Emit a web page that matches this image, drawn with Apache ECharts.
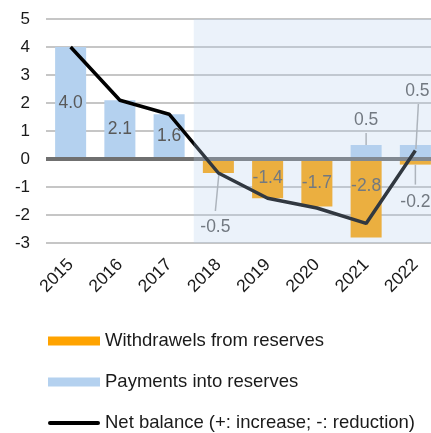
<!DOCTYPE html>
<html><head><meta charset="utf-8">
<script src="https://cdn.jsdelivr.net/npm/echarts@6/dist/echarts.min.js"></script>
<style>html,body{margin:0;padding:0;background:#fff;}#c{width:431px;height:433px;}</style>
</head><body><div id="c"></div>
<script>
// ---- data ----
const categories = ['2015','2016','2017','2018','2019','2020','2021','2022'];
const withdrawals = [null, null, null, -0.5, -1.4, -1.7, -2.8, -0.2];
const payments    = [4.0, 2.1, 1.6, null, null, null, 0.5, 0.5];
const netBalance  = [4.0, 2.1, 1.6, -0.5, -1.4, -1.75, -2.3, 0.3];
const yMin = -3, yMax = 5, yStep = 1;
const shadedStart = '2018';
const seriesNames = ['Withdrawels from reserves', 'Payments into reserves', 'Net balance (+: increase; -: reduction)'];

// ---- styles ----
const FONT = '"Liberation Sans", Arial, Helvetica, sans-serif';
const ORANGE = '#FFA300', BLUE = '#B4D1EF';
const labelBase = {
  show: true, position: 'inside', color: '#595959', fontSize: 17.5, fontFamily: FONT,
  formatter: p => (p.value == null ? '' : Number(p.value).toFixed(1))
};
// label placement per category (styles only, not data); lead = leader line pixel offsets from bar end
const withdrawLabelPlace = {
  '2018': {position: 'bottom', distance: 45, offset: [-3, 0], lead: [0.6, 0, -3, 38]},
  '2021': {position: 'insideTop', distance: 18},
  '2022': {position: 'bottom', distance: 29, lead: [0, 0, 0, 20]}
};
const payLabelPlace = {
  '2021': {position: 'top', distance: 16, lead: [0, 0, 0, -12]},
  '2022': {position: 'top', distance: 45, offset: [2, 0], lead: [0.5, 4, 3, -41]}
};
function barData(vals, place) {
  return vals.map((v, i) => {
    if (v == null) return null;
    const p = place[categories[i]];
    if (!p) return {value: v};
    const lab = {position: p.position, distance: p.distance};
    if (p.offset) lab.offset = p.offset;
    return {value: v, label: lab};
  });
}
// leader-line anchors: bar ends (category index, stacked bar end value) for labels placed outside
const leaderData = [];
const leaderStyle = [];
[[withdrawals, withdrawLabelPlace], [payments, payLabelPlace]].forEach(([vals, place]) => {
  vals.forEach((v, i) => {
    const p = place[categories[i]];
    if (v != null && p && p.lead) { leaderData.push([i, v]); leaderStyle.push(p.lead); }
  });
});

const chart = echarts.init(document.getElementById('c'), null, {renderer: 'canvas'});
const shadeIdx = categories.indexOf(shadedStart);
chart.setOption({
  animation: false,
  backgroundColor: '#ffffff',
  textStyle: {fontFamily: FONT},
  grid: {left: 46, right: -9, top: 19, bottom: 190, containLabel: false, outerBoundsMode: 'none'},
  xAxis: [{
    type: 'category', data: categories, boundaryGap: true,
    axisLine: {show: false, onZero: false}, axisTick: {show: false}, splitLine: {show: false},
    axisLabel: {rotate: 45, margin: 19, color: '#1a1a1a', fontSize: 17.5, fontFamily: FONT, interval: 0}
  }, {
    type: 'value', min: -0.5, max: categories.length - 0.5, show: false,
    splitLine: {show: false}
  }],
  yAxis: {
    type: 'value', min: yMin, max: yMax, interval: yStep,
    axisLine: {show: false}, axisTick: {show: false},
    axisLabel: {margin: 16, color: '#1a1a1a', fontSize: 17, fontFamily: FONT},
    splitLine: {show: true, lineStyle: {color: '#b3b3b3', width: 1.5}}
  },
  legend: {
    orient: 'vertical', left: 48, top: 331, padding: 0, height: 130,
    itemWidth: 52, itemHeight: 9, itemGap: 21,
    selectedMode: false,
    textStyle: {fontSize: 18.5, fontFamily: FONT, color: '#1a1a1a', lineHeight: 20},
    data: [
      {name: seriesNames[0], icon: 'rect'},
      {name: seriesNames[1], icon: 'rect'},
      {name: seriesNames[2], icon: 'path://M2,0H50A2,2,0,0,1,50,4H2A2,2,0,0,1,2,0Z'}
    ]
  },
  series: [
    {
      name: seriesNames[0], type: 'bar', stack: 'res', barWidth: '63%', z: 2,
      itemStyle: {color: ORANGE},
      label: labelBase,
      data: barData(withdrawals, withdrawLabelPlace),
      markLine: {
        silent: true, symbol: 'none', z: 3, animation: false,
        label: {show: false},
        lineStyle: {color: '#707070', width: 4, type: 'solid'},
        data: [{yAxis: 0}]
      }
    },
    {
      name: seriesNames[1], type: 'bar', stack: 'res', barWidth: '63%', z: 2,
      itemStyle: {color: BLUE},
      label: labelBase,
      data: barData(payments, payLabelPlace)
    },
    {
      name: 'leaders', type: 'custom', z: 3, silent: true,
      data: leaderData,
      renderItem: (params, api) => {
        const p = api.coord([api.value(0), api.value(1)]);
        const d = leaderStyle[params.dataIndex];
        return {
          type: 'line',
          shape: {x1: p[0] + d[0], y1: p[1] + d[1], x2: p[0] + d[2], y2: p[1] + d[3]},
          style: {stroke: '#ababab', lineWidth: 1.5}
        };
      }
    },
    {
      name: seriesNames[2], type: 'line', z: 4,
      data: netBalance, symbol: 'none', showSymbol: false,
      lineStyle: {color: '#000000', width: 3.5},
      itemStyle: {color: '#000000'}
    },
    {
      name: 'shade', type: 'line', xAxisIndex: 1, data: [], z: 10,
      markArea: {
        silent: true, z: 10,
        itemStyle: {color: 'rgba(180,208,238,0.27)'},
        data: [[{xAxis: shadeIdx - 0.5}, {xAxis: categories.length - 0.5}]]
      }
    }
  ]
});
</script>
</body></html>
